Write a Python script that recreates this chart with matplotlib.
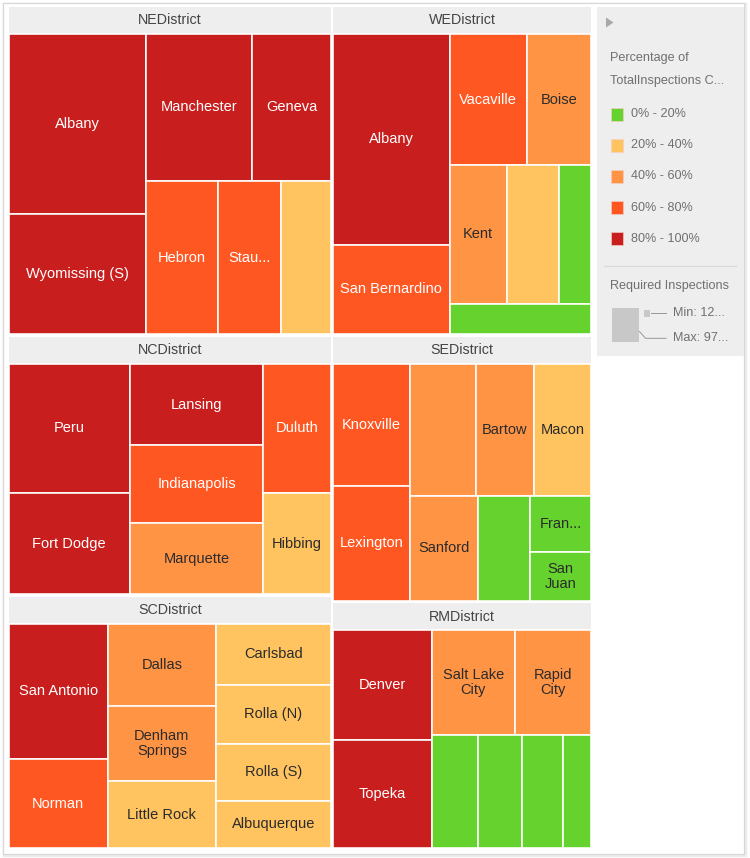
import matplotlib
matplotlib.use("Agg")
import matplotlib.pyplot as plt
from matplotlib.patches import Rectangle, Polygon
from matplotlib.lines import Line2D

plt.rcParams['font.family'] = ['Liberation Sans', 'DejaVu Sans']

# ------------------------------------------------------------------ data
districts = ["NEDistrict", "WEDistrict", "NCDistrict", "SCDistrict", "SEDistrict", "RMDistrict"]

ne_labels = ["Albany", "Wyomissing (S)", "Manchester", "Geneva", "Hebron", "Stau...", ""]
ne_required = [97.5, 64.8, 61.0, 45.3, 42.9, 38.1, 29.6]
ne_bin = [4, 4, 4, 4, 3, 3, 1]

we_labels = ["Albany", "San Bernardino", "Vacaville", "Boise", "Kent", "", "", ""]
we_required = [96.6, 41.1, 39.9, 33.2, 31.1, 28.4, 17.5, 17.0]
we_bin = [4, 3, 3, 2, 2, 1, 0, 0]

nc_labels = ["Peru", "Fort Dodge", "Lansing", "Indianapolis", "Marquette", "Duluth", "Hibbing"]
nc_required = [62.9, 49.6, 43.8, 41.6, 38.4, 35.1, 27.7]
nc_bin = [4, 4, 4, 3, 2, 3, 1]

sc_labels = ["San Antonio", "Norman", "Dallas", "Denham\nSprings", "Little Rock",
             "Carlsbad", "Rolla (N)", "Rolla (S)", "Albuquerque"]
sc_required = [54.0, 35.9, 35.7, 33.1, 29.2, 28.2, 27.3, 26.4, 22.1]
sc_bin = [4, 3, 2, 2, 1, 1, 1, 1, 1]

se_labels = ["Knoxville", "Lexington", "", "Bartow", "Macon", "Sanford", "", "Fran...", "San\nJuan"]
se_required = [37.7, 35.5, 34.9, 30.6, 30.6, 28.8, 21.9, 14.0, 12.0]
se_bin = [3, 3, 2, 2, 1, 2, 0, 0, 0]

rm_labels = ["Denver", "Topeka", "Salt Lake\nCity", "Rapid\nCity", "", "", "", ""]
rm_required = [44.0, 43.7, 35.1, 32.6, 21.1, 20.2, 18.8, 13.2]
rm_bin = [4, 4, 2, 2, 0, 0, 0, 0]

bin_labels = ["0% - 20%", "20% - 40%", "40% - 60%", "60% - 80%", "80% - 100%"]
bin_colors = ["#66d22e", "#ffc360", "#ff9445", "#ff5722", "#c81e1e"]
bin_text = ["#2b2b2b", "#2b2b2b", "#2b2b2b", "white", "white"]

color_title = ["Percentage of", "TotalInspections C..."]
size_title = "Required Inspections"
size_min_label = "Min: 12..."
size_max_label = "Max: 97..."

district_data = [
    (ne_labels, ne_required, ne_bin),
    (we_labels, we_required, we_bin),
    (nc_labels, nc_required, nc_bin),
    (sc_labels, sc_required, sc_bin),
    (se_labels, se_required, se_bin),
    (rm_labels, rm_required, rm_bin),
]

# ------------------------------------------------------------------ layout plans (strip order)
root_plan = [("row", 2), ("col", 2), ("row", 1), ("row", 1)]
district_plans = [
    [("col", 2), ("row", 2), ("col", 1), ("row", 2)],
    [("col", 2), ("row", 2), ("row", 3), ("row", 1)],
    [("col", 2), ("col", 3), ("col", 2)],
    [("col", 2), ("col", 3), ("col", 4)],
    [("col", 2), ("row", 3), ("col", 1), ("col", 1), ("col", 2)],
    [("col", 2), ("row", 2), ("row", 4)],
]


def strip_layout(values, plan, x0, y0, x1, y1):
    rects = []
    remaining = float(sum(values))
    i = 0
    for orient, n in plan:
        chunk = values[i:i + n]
        s = float(sum(chunk))
        w, h = x1 - x0, y1 - y0
        if orient == "col":
            cw = w * s / remaining
            yy = y0
            for v in chunk:
                ch = h * v / s
                rects.append((x0, yy, cw, ch))
                yy += ch
            x0 += cw
        else:
            rh = h * s / remaining
            xx = x0
            for v in chunk:
                cw = w * v / s
                rects.append((xx, y0, cw, rh))
                xx += cw
            y0 += rh
        remaining -= s
        i += n
    return rects


# ------------------------------------------------------------------ figure
W, H = 750, 858
fig = plt.figure(figsize=(W / 100, H / 100), dpi=100)
ax = fig.add_axes([0, 0, 1, 1])
ax.set_xlim(0, W)
ax.set_ylim(H, 0)
ax.axis("off")

PX = 72 / 100.0  # points per pixel

# outer frame with light shadow
ax.add_patch(Rectangle((3.5, 3.5), 742, 852, facecolor="none", edgecolor="#ececec", lw=2.5 * PX, zorder=0))
ax.add_patch(Rectangle((2.5, 2.5), 741, 851, facecolor="white", edgecolor="#d7d7d7", lw=1.2 * PX, zorder=1))

TM = (7.5, 5.5, 592.5, 849.5)
INSET = 1.2
HEADER = 26.0
HEADER_GAP = 1.2

totals = [sum(d[1]) for d in district_data]
district_rects = strip_layout(totals, root_plan, *TM)

for name, (dx, dy, dw, dh), (labels, vals, bins), plan in zip(districts, district_rects, district_data, district_plans):
    x0, y0 = dx + INSET, dy + INSET
    x1, y1 = dx + dw - INSET, dy + dh - INSET
    ax.add_patch(Rectangle((x0, y0), x1 - x0, HEADER, facecolor="#eeeeee", edgecolor="none", zorder=2))
    ax.text((x0 + x1) / 2, y0 + HEADER / 2 + 0.5, name, ha="center", va="center",
            fontsize=14.2 * PX, color="#444444", zorder=5)
    cells = strip_layout(vals, plan, x0, y0 + HEADER + HEADER_GAP, x1, y1)
    for (cx, cy, cw, ch), lab, b in zip(cells, labels, bins):
        ax.add_patch(Rectangle((cx, cy), cw, ch, facecolor=bin_colors[b], edgecolor="white",
                               lw=1.6 * PX, zorder=3))
        if lab:
            ax.text(cx + cw / 2, cy + ch / 2, lab, ha="center", va="center", fontsize=14.6 * PX,
                    color=bin_text[b], linespacing=1.05, zorder=5)

# ------------------------------------------------------------------ legend panel
ax.add_patch(Rectangle((597, 7), 147, 349, facecolor="#eeeeee", edgecolor="none", zorder=2))
ax.add_patch(Polygon([(606, 17.5), (606, 27.5), (613.5, 22.5)], closed=True, facecolor="#a8a8a8",
                     edgecolor="none", zorder=3))
LEG_TXT = "#707070"
LEG_FS = 12.6 * PX
ax.text(610, 58, color_title[0], ha="left", va="center", fontsize=LEG_FS, color=LEG_TXT, zorder=5)
ax.text(610, 81, color_title[1], ha="left", va="center", fontsize=LEG_FS, color=LEG_TXT, zorder=5)
for k, (lab, col) in enumerate(zip(bin_labels, bin_colors)):
    yc = 114 + k * 31.2
    ax.add_patch(Rectangle((611, yc - 6.5), 12, 13, facecolor=col, edgecolor="#f4d0c8", lw=0.6 * PX, zorder=3))
    ax.text(631, yc, lab, ha="left", va="center", fontsize=LEG_FS, color=LEG_TXT, zorder=5)

ax.add_line(Line2D([604, 736], [265.5, 265.5], color="#d9d9d9", lw=1.2 * PX, zorder=3))
ax.text(610, 286, size_title, ha="left", va="center", fontsize=LEG_FS, color=LEG_TXT, zorder=5)
ax.add_patch(Rectangle((611.5, 308), 27, 34, facecolor="#c8c8c8", edgecolor="none", zorder=3))
ax.add_patch(Rectangle((644, 310), 6, 6.5, facecolor="#c8c8c8", edgecolor="none", zorder=3))
ax.add_line(Line2D([651, 666], [313.3, 313.3], color="#9a9a9a", lw=1.0 * PX, zorder=3))
ax.add_line(Line2D([639.5, 645.5, 666], [331.5, 338.3, 338.3], color="#9a9a9a", lw=1.0 * PX, zorder=3))
ax.text(673, 313.3, size_min_label, ha="left", va="center", fontsize=LEG_FS, color=LEG_TXT, zorder=5)
ax.text(673, 338, size_max_label, ha="left", va="center", fontsize=LEG_FS, color=LEG_TXT, zorder=5)

fig.savefig("out.png", dpi=100, facecolor="white")
